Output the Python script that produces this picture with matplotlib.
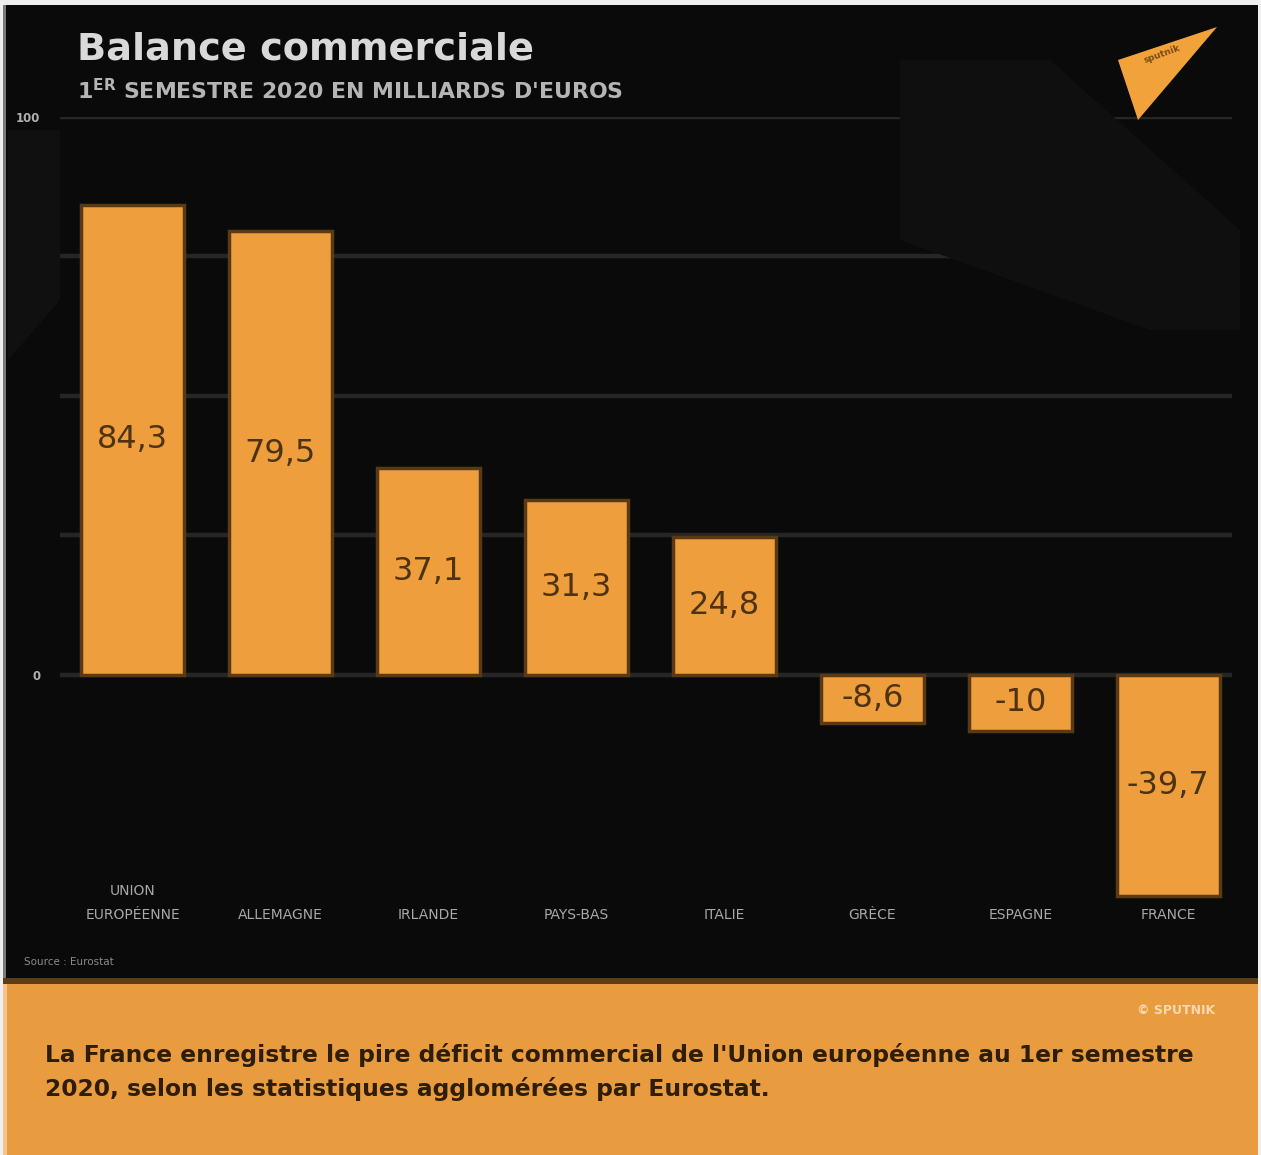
import matplotlib
matplotlib.use("Agg")
import matplotlib.pyplot as plt
from matplotlib.patches import Rectangle, Polygon
from matplotlib import font_manager
import matplotlib.transforms as mtransforms

categories = ["UNION\nEUROPÉENNE", "ALLEMAGNE", "IRLANDE", "PAYS-BAS", "ITALIE",
              "GRÈCE", "ESPAGNE", "FRANCE"]
values = [84.3, 79.5, 37.1, 31.3, 24.8, -8.6, -10.0, -39.7]
value_labels = ["84,3", "79,5", "37,1", "31,3", "24,8", "-8,6", "-10", "-39,7"]
grid_values = [0, 25, 50, 75, 100]
ytick_labels = ["0", "", "", "", "100"]

title = "Balance commerciale"
subtitle = r"1$^{\mathregular{ER}}$ SEMESTRE 2020 EN MILLIARDS D'EUROS"
source = "Source : Eurostat"
caption = ("La France enregistre le pire déficit commercial de l'Union européenne au 1er semestre\n"
           "2020, selon les statistiques agglomérées par Eurostat.")
copyright_txt = "© SPUTNIK"

W, H = 1261, 1155
available = {f.name for f in font_manager.fontManager.ttflist}
narrow = "Liberation Sans Narrow" if "Liberation Sans Narrow" in available else "DejaVu Sans"

fig = plt.figure(figsize=(W / 100, H / 100), dpi=100)
fig.patch.set_facecolor("#efefef")


def fx(x):
    return x / W


def fy(y):
    return 1 - y / H


# panels
fig.add_artist(Rectangle((fx(3), fy(980)), fx(1258) - fx(3), fy(5) - fy(980),
                         transform=fig.transFigure, facecolor="#0a0a0a", edgecolor="none", zorder=0))
fig.add_artist(Rectangle((fx(3), fy(980)), fx(6) - fx(3), fy(5) - fy(980),
                         transform=fig.transFigure, facecolor="#7a7a7a", edgecolor="none", zorder=0))
fig.add_artist(Rectangle((fx(3), fy(1155)), fx(1258) - fx(3), fy(978) - fy(1155),
                         transform=fig.transFigure, facecolor="#E99B40", edgecolor="none", zorder=0))
fig.add_artist(Rectangle((fx(3), fy(984)), fx(1258) - fx(3), fy(978) - fy(984),
                         transform=fig.transFigure, facecolor="#5e3d16", edgecolor="none", zorder=0))
fig.add_artist(Rectangle((fx(3), fy(1155)), fx(7) - fx(3), fy(984) - fy(1155),
                         transform=fig.transFigure, facecolor="#f4c48c", edgecolor="none", zorder=0))

# faint background shapes (photo impression)
fig.add_artist(Polygon([(fx(900), fy(60)), (fx(1050), fy(60)), (fx(1240), fy(230)),
                        (fx(1240), fy(330)), (fx(1150), fy(330)), (fx(900), fy(240))],
                       closed=True, transform=fig.transFigure, facecolor="#0f0f0f",
                       edgecolor="none", zorder=0.5))
fig.add_artist(Polygon([(fx(8), fy(130)), (fx(60), fy(130)), (fx(60), fy(300)), (fx(8), fy(360))],
                       closed=True, transform=fig.transFigure, facecolor="#101010",
                       edgecolor="none", zorder=0.5))

# axes
left, right = 60, 1232
top, bottom = 117, 926
ax = fig.add_axes([fx(left), fy(bottom), fx(right) - fx(left), fy(top) - fy(bottom)])
ax.set_facecolor("none")
x = list(range(len(categories)))
ax.set_xlim(-0.49, len(categories) - 0.57)
ax.set_ylim(-45, 100)

for g in grid_values:
    ax.axhline(g, color="#262626", lw=3.2, zorder=1)

ax.bar(x, values, width=0.70, color="#EE9E3C", edgecolor="#5a3a14", linewidth=2.5, zorder=2)

for xi, v, lab in zip(x, values, value_labels):
    ax.text(xi, v / 2, lab, ha="center", va="center", fontsize=23, color="#4d3312",
            family=narrow, zorder=3)

ax.set_yticks(grid_values)
ax.set_yticklabels(ytick_labels, color="#b0b0b0", fontsize=8.5, fontweight="bold")
ax.tick_params(axis="y", length=0, pad=14)
ax.set_xticks([])
for s in ax.spines.values():
    s.set_visible(False)

trans = mtransforms.blended_transform_factory(ax.transData, fig.transFigure)
for xi, cat in zip(x, categories):
    ax.text(xi, fy(922), cat, transform=trans, ha="center", va="bottom", fontsize=10,
            color="#a8a8a8", linespacing=1.9, family=narrow)

# titles
fig.text(fx(77), fy(50), title, ha="left", va="center", fontsize=27.5, fontweight="bold",
         color="#d9d9d9")
fig.text(fx(77), fy(91), subtitle, ha="left", va="center", fontsize=15.8, fontweight="bold",
         color="#b5b5b5", family=narrow)
fig.text(fx(24), fy(962), source, ha="left", va="center", fontsize=7.5, color="#8a8a8a")

# logo
fig.add_artist(Polygon([(fx(1118), fy(60)), (fx(1217), fy(27)), (fx(1138), fy(120))],
                       closed=True, transform=fig.transFigure, facecolor="#F2A23A",
                       edgecolor="none", zorder=3))
fig.text(fx(1162), fy(54), "sputnik", rotation=20, ha="center", va="center", fontsize=6.5,
         color="#7a4c12", fontweight="bold", zorder=4)

# bottom caption
fig.text(fx(1215), fy(1010), copyright_txt, ha="right", va="center", fontsize=9,
         color="#f8d9b0", fontweight="bold")
fig.text(fx(45), fy(1072), caption, ha="left", va="center", fontsize=16.8, fontweight="bold",
         color="#2e1e08", linespacing=1.55, family=narrow)

fig.savefig("out.png", dpi=100, facecolor=fig.get_facecolor())
